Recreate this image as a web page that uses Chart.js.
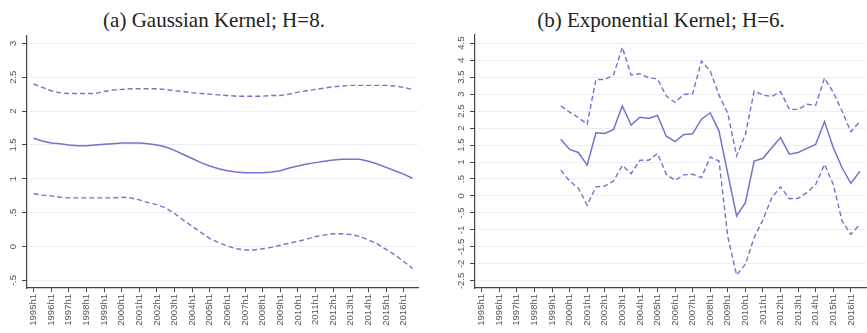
<!DOCTYPE html>
<html>
<head>
<meta charset="utf-8">
<script src="https://cdn.jsdelivr.net/npm/chart.js@4"></script>
<style>
  body { margin: 0; background: #fff; width: 867px; height: 333px; position: relative; overflow: hidden; }
  .title { position: absolute; top: 8px; transform: translateX(-50%); white-space: nowrap;
           font-family: "Liberation Serif", "Times New Roman", Times, serif; font-size: 21px; color: #222; }
  .panel { position: absolute; top: 27px; height: 306px; }
</style>
</head>
<body>
<div class="title" style="left:214px">(a) Gaussian Kernel; H=8.</div>
<div class="title" style="left:661px">(b) Exponential Kernel; H=6.</div>
<div class="panel" style="left:0;width:430px"><canvas id="gauss"></canvas></div>
<div class="panel" style="left:445px;width:422px"><canvas id="expo"></canvas></div>
<script>
'use strict';

// ─── Data ─────────────────────────────────────────────────────────────────────

const tickYears = [1995, 1996, 1997, 1998, 1999, 2000, 2001, 2002, 2003, 2004, 2005,
  2006, 2007, 2008, 2009, 2010, 2011, 2012, 2013, 2014, 2015, 2016];
const halfYears = tickYears.flatMap(y => [y + 'h1', y + 'h2']);

// (a) Gaussian kernel, 1995h1 – 2016h2
const gaussPeriods = halfYears;
const gaussEst = [1.60, 1.56, 1.53, 1.52, 1.50, 1.49, 1.49, 1.50, 1.51, 1.52, 1.53,
  1.53, 1.53, 1.52, 1.50, 1.47, 1.42, 1.36, 1.30, 1.24, 1.19, 1.15, 1.12, 1.10,
  1.09, 1.09, 1.09, 1.10, 1.12, 1.16, 1.19, 1.22, 1.24, 1.26, 1.28, 1.29, 1.29,
  1.29, 1.26, 1.22, 1.17, 1.12, 1.07, 1.01];
const gaussUpper = [2.40, 2.35, 2.30, 2.27, 2.26, 2.26, 2.26, 2.26, 2.29, 2.31, 2.32,
  2.33, 2.33, 2.33, 2.33, 2.32, 2.30, 2.29, 2.27, 2.26, 2.25, 2.24, 2.23, 2.22,
  2.22, 2.22, 2.22, 2.23, 2.23, 2.25, 2.28, 2.30, 2.32, 2.34, 2.36, 2.37, 2.38,
  2.38, 2.38, 2.38, 2.38, 2.37, 2.35, 2.32];
const gaussLower = [0.78, 0.76, 0.75, 0.73, 0.72, 0.72, 0.72, 0.72, 0.72, 0.72, 0.73,
  0.72, 0.69, 0.65, 0.62, 0.57, 0.49, 0.39, 0.30, 0.21, 0.12, 0.06, 0.01, -0.03,
  -0.05, -0.05, -0.03, -0.01, 0.02, 0.05, 0.08, 0.11, 0.15, 0.17, 0.19, 0.19, 0.18,
  0.15, 0.10, 0.04, -0.04, -0.12, -0.22, -0.32];
const gaussYTicks = [-0.5, 0, 0.5, 1, 1.5, 2, 2.5, 3];

// (b) Exponential kernel, 1999h2 – 2016h2
const expoPeriods = halfYears.slice(halfYears.indexOf('1999h2'));
const expoEst = [1.67, 1.37, 1.28, 0.91, 1.86, 1.84, 1.96, 2.65, 2.09, 2.32, 2.28, 2.37,
  1.76, 1.60, 1.81, 1.83, 2.26, 2.45, 1.91, 0.65, -0.59, -0.20, 1.03, 1.11, 1.42,
  1.72, 1.23, 1.28, 1.40, 1.52, 2.19, 1.42, 0.83, 0.37, 0.72];
const expoUpper = [2.65, 2.47, 2.31, 2.11, 3.43, 3.43, 3.56, 4.38, 3.56, 3.60, 3.48, 3.45,
  2.94, 2.76, 2.99, 3.01, 3.97, 3.68, 2.97, 2.43, 1.18, 1.81, 3.09, 2.97, 2.93,
  3.07, 2.55, 2.55, 2.70, 2.67, 3.47, 3.05, 2.50, 1.89, 2.19];
const expoLower = [0.76, 0.44, 0.23, -0.27, 0.27, 0.29, 0.44, 0.90, 0.66, 1.05, 1.05, 1.25,
  0.64, 0.46, 0.62, 0.64, 0.54, 1.15, 1.03, -1.20, -2.33, -2.01, -1.22, -0.70, -0.05,
  0.27, -0.08, -0.07, 0.10, 0.34, 0.93, 0.34, -0.74, -1.13, -0.84];
const expoYTicks = [-2.5, -2, -1.5, -1, -0.5, 0, 0.5, 1, 1.5, 2, 2.5, 3, 3.5, 4, 4.5];

// ─── Chart ────────────────────────────────────────────────────────────────────

const LINE = '#7075c9';
const AXIS = '#444';
const TICK_FONT = { family: "'Liberation Sans', Arial, sans-serif", size: 9.5 };

const toTime = (p) => parseInt(p, 10) + (p.endsWith('h2') ? 0.5 : 0);
const stataNum = (v) => String(v).replace(/^(-?)0\./, '$1.');

function series(periods, values) {
  return periods.map((p, i) => ({ x: toTime(p), y: values[i] }));
}

function makeChart(id, cfg) {
  const line = (values, dashed) => ({
    data: series(cfg.periods, values),
    borderColor: LINE,
    borderWidth: dashed ? 1.4 : 1.5,
    borderDash: dashed ? [5, 3] : [],
    pointRadius: 0,
    tension: 0,
    fill: false,
  });

  return new Chart(document.getElementById(id), {
    type: 'line',
    data: {
      datasets: [line(cfg.upper, true), line(cfg.est, false), line(cfg.lower, true)],
    },
    options: {
      responsive: true,
      maintainAspectRatio: false,
      animation: false,
      layout: { padding: { top: 8, right: cfg.padRight, bottom: 0, left: 0 } },
      plugins: { legend: { display: false }, tooltip: { enabled: false } },
      scales: {
        x: {
          type: 'linear',
          min: cfg.xMin,
          max: cfg.xMax,
          afterBuildTicks: (s) => { s.ticks = tickYears.map(v => ({ value: v })); },
          afterFit: (s) => { s.height = 45; },
          border: { color: AXIS, width: 1.2 },
          grid: { drawOnChartArea: false, tickLength: 4, tickColor: AXIS },
          ticks: {
            autoSkip: false,
            minRotation: 90,
            maxRotation: 90,
            padding: 2,
            color: '#555',
            font: TICK_FONT,
            callback: (v) => v + 'h1',
          },
        },
        y: {
          min: cfg.yMin,
          max: cfg.yMax,
          afterBuildTicks: (s) => { s.ticks = cfg.yTicks.map(v => ({ value: v })); },
          afterFit: (s) => { s.width = cfg.yWidth; },
          border: { color: AXIS, width: 1.2 },
          grid: { color: '#eceff2', tickLength: 5, tickColor: AXIS },
          ticks: {
            autoSkip: false,
            minRotation: 90,
            maxRotation: 90,
            crossAlign: 'center',
            padding: cfg.labelPad,
            color: '#555',
            font: TICK_FONT,
            callback: (v) => stataNum(v),
          },
        },
      },
    },
  });
}

makeChart('gauss', {
  periods: gaussPeriods, est: gaussEst, upper: gaussUpper, lower: gaussLower,
  yTicks: gaussYTicks, yMin: -0.61, yMax: 3.12, xMin: 1994.63, xMax: 2016.81,
  yWidth: 27, labelPad: 2.5, padRight: 12,
});

makeChart('expo', {
  periods: expoPeriods, est: expoEst, upper: expoUpper, lower: expoLower,
  yTicks: expoYTicks, yMin: -2.71, yMax: 4.74, xMin: 1994.62, xMax: 2016.86,
  yWidth: 30, labelPad: 0, padRight: 1,
});
</script>
</body>
</html>
